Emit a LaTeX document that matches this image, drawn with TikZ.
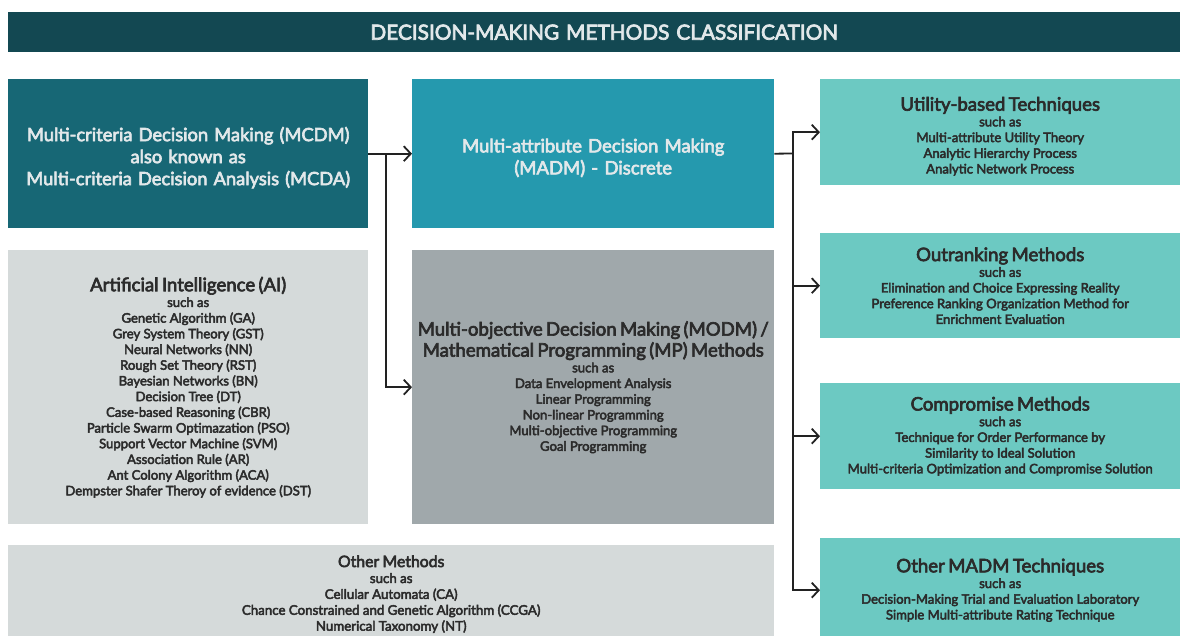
\documentclass[tikz,border=0pt]{standalone}
\usepackage{fontspec}
\setmainfont{Lato}[FakeBold=3.5]
\usetikzlibrary{arrows.meta,calc}

\definecolor{titlebg}{HTML}{134852}
\definecolor{mcdmbg}{HTML}{176775}
\definecolor{madmbg}{HTML}{2599AE}
\definecolor{lightgrey}{HTML}{D5DADA}
\definecolor{midgrey}{HTML}{A0A8AB}
\definecolor{aqua}{HTML}{6CC9C2}
\definecolor{lighttext}{HTML}{E2E8EA}
\definecolor{darktext}{HTML}{2B2B2B}
\definecolor{wire}{HTML}{222222}

\newcommand{\headsize}{\fontsize{18.6}{21}\selectfont}
\newcommand{\bodysize}{\fontsize{13.1}{15.7}\selectfont}
% tall invisible strut that lowers a block of centred lines a little
\newcommand{\padtop}{\rule{0pt}{22pt}}

\begin{document}
\begin{tikzpicture}[x=1pt, y=-1pt,
  panel/.style={rectangle, anchor=north west, inner sep=0pt, align=center},
  darkpanel/.style={panel, text=lighttext},
  lightpanel/.style={panel, text=darktext},
  conn/.style={draw=wire, line width=1.8pt, -{Straight Barb[length=7pt, width=15pt]}},
  wireline/.style={draw=wire, line width=1.8pt}
]
\useasboundingbox (0,0) rectangle (1180,636);
\clip (0,0) rectangle (1180,636);

% title bar (runs past the right edge)
\node[darkpanel, fill=titlebg, minimum width=1192pt, minimum height=40pt,
      text width=1180pt, font=\fontsize{20.8}{22}\selectfont, text=lighttext]
  (title) at (8,12) {DECISION-MAKING METHODS CLASSIFICATION};

% left column
\node[darkpanel, fill=mcdmbg, minimum width=360pt, minimum height=149pt, text width=356pt,
      font=\fontsize{18.3}{22}\selectfont]
  (mcdm) at (8,79) {\padtop Multi-criteria Decision Making (MCDM)\\ also known as\\ Multi-criteria Decision Analysis (MCDA)};

\node[lightpanel, fill=lightgrey, minimum width=360pt, minimum height=274pt, text width=350pt]
  (ai) at (8,250) {{\headsize Artificial Intelligence (AI)\par}\bodysize
    such as\\ Genetic Algorithm (GA)\\ Grey System Theory (GST)\\ Neural Networks (NN)\\
    Rough Set Theory (RST)\\ Bayesian Networks (BN)\\ Decision Tree (DT)\\
    Case-based Reasoning (CBR)\\ Particle Swarm Optimazation (PSO)\\
    Support Vector Machine (SVM)\\ Association Rule (AR)\\
    Ant Colony Algorithm (ACA)\\ Dempster Shafer Theroy of evidence (DST)\par};

% middle column
\node[darkpanel, fill=madmbg, minimum width=362pt, minimum height=149pt, text width=352pt,
      font=\fontsize{18.5}{22}\selectfont]
  (madm) at (412,79) {\padtop Multi-attribute Decision Making\\ (MADM) - Discrete};

\node[lightpanel, fill=midgrey, minimum width=362pt, minimum height=274pt, text width=362pt]
  (modm) at (412,250) {{\headsize Multi-objective Decision Making (MODM) /\\
    Mathematical Programming (MP) Methods\par}\bodysize
    such as\\ Data Envelopment Analysis\\ Linear Programming\\ Non-linear Programming\\
    Multi-objective Programming\\ Goal Programming\par};

% bottom band (runs past the lower edge)
\node[lightpanel, fill=lightgrey, minimum width=766pt, minimum height=98pt, text width=750pt]
  (other) at (8,545) {{\fontsize{15.8}{18}\selectfont Other Methods\par}
    \fontsize{13.3}{15.9}\selectfont such as\\ Cellular Automata (CA)\\
    Chance Constrained and Genetic Algorithm (CCGA)\\ Numerical Taxonomy (NT)\par};

% right column
\node[lightpanel, fill=aqua, minimum width=360pt, minimum height=106pt, text width=350pt]
  (util) at (820,79) {{\headsize\padtop Utility-based Techniques\par}\bodysize
    such as\\ Multi-attribute Utility Theory\\ Analytic Hierarchy Process\\ Analytic Network Process\par};

\node[lightpanel, fill=aqua, minimum width=360pt, minimum height=105pt, text width=350pt]
  (outr) at (820,233) {{\headsize Outranking Methods\par}\bodysize
    such as\\ Elimination and Choice Expressing Reality\\
    Preference Ranking Organization Method for\\ Enrichment Evaluation\par};

\node[lightpanel, fill=aqua, minimum width=360pt, minimum height=106pt, text width=350pt]
  (comp) at (820,383) {{\headsize Compromise Methods\par}\bodysize
    such as\\ Technique for Order Performance by\\ Similarity to Ideal Solution\\
    Multi-criteria Optimization and Compromise Solution\par};

\node[lightpanel, fill=aqua, minimum width=360pt, minimum height=104pt, text width=350pt]
  (omadm) at (820,538) {{\headsize Other MADM Techniques\par}\bodysize
    such as\\ Decision-Making Trial and Evaluation Laboratory\\
    Simple Multi-attribute Rating Technique\par};

% connectors
\coordinate (j1) at ($(mcdm.east)!0.4!(madm.west)$);
\coordinate (j2) at (793,153.5);

\draw[conn] (mcdm.east) -- (madm.west);
\draw[conn] (j1) |- (modm.west);
\draw[wireline] (madm.east) -- (j2);
\draw[conn] (j2) |- (util.west);
\draw[conn] (j2) |- (outr.west);
\draw[conn] (j2) |- (comp.west);
\draw[conn] (j2) |- (omadm.west);
\end{tikzpicture}
\end{document}
